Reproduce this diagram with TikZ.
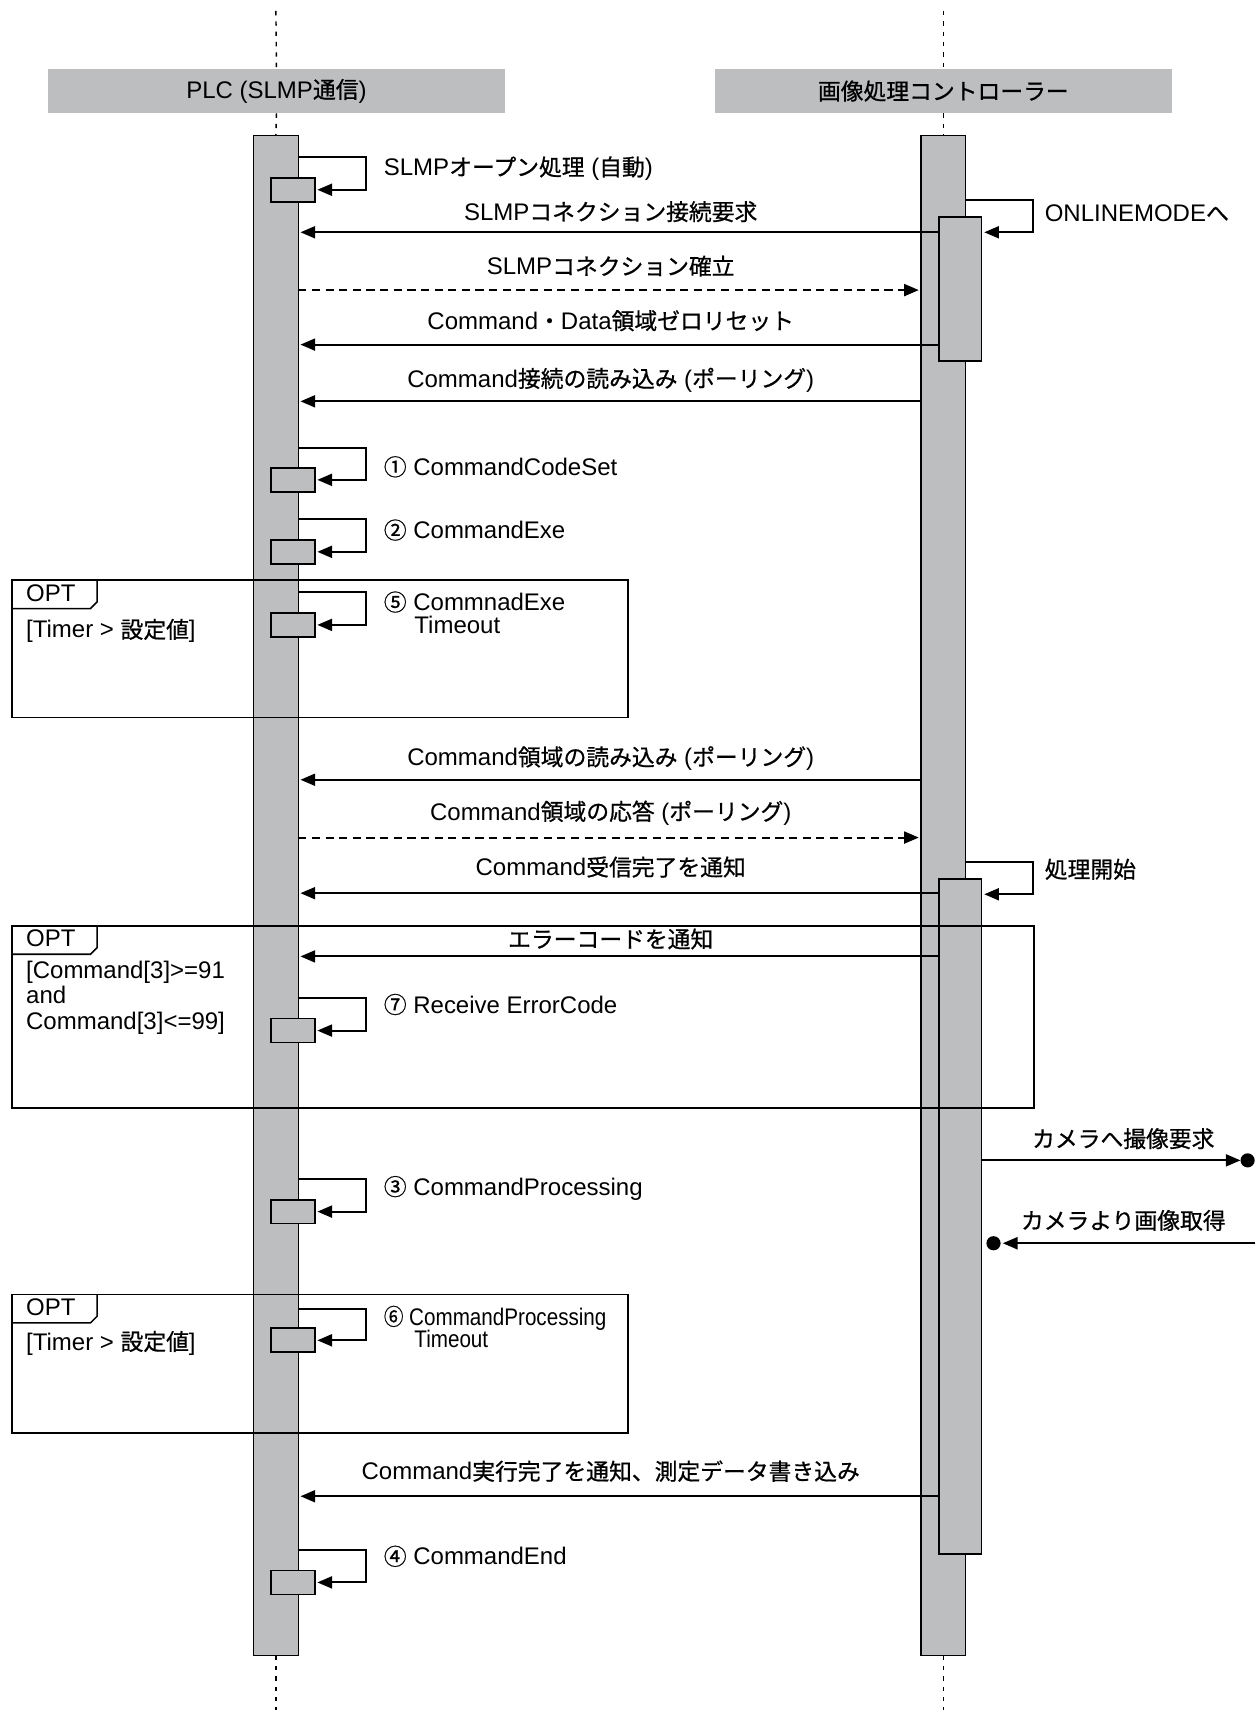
\documentclass[tikz,border=0pt]{standalone}
\usepackage{fontspec}
\usepackage{graphicx}
\setmainfont{Liberation Sans}
\newfontfamily\jpf{Noto Sans CJK JP}[Scale=0.95, FakeBold=0.7]
\newcommand\jp[1]{{\jpf #1}}
\usetikzlibrary{arrows.meta}
\definecolor{bargray}{RGB}{188,190,192}
\newcommand\plcloop[3]{%
  \node[selfbox] (#1) at (268.5,#3) {};
  \draw[msg, shorten >=2.5pt] (plcbar.east |- 0,#2) -| (336,#3) -- (#1.east);
}
\begin{document}
\begin{tikzpicture}[x=1pt,y=-1pt,
  every node/.style={font=\fontsize{22}{26}\selectfont, inner sep=0pt, outer sep=0pt},
  headbox/.style={fill=bargray, minimum width=419pt, minimum height=41pt},
  lifebar/.style={draw, fill=bargray, line width=1.3pt, minimum width=41pt, minimum height=1394pt},
  actbox/.style={draw, fill=bargray, line width=1.3pt, minimum width=39pt},
  selfbox/.style={draw, fill=bargray, line width=1.6pt, minimum width=40pt, minimum height=22pt},
  lifedash/.style={line width=1.3pt, dash pattern=on 4pt off 5.5pt},
  msg/.style={line width=1.9pt, -{Triangle[length=13.5pt,width=11pt]}, shorten >=2pt},
  reply/.style={msg, dash pattern=on 7.5pt off 5pt},
  optframe/.style={draw, line width=1.4pt, anchor=north west},
  optline/.style={line width=1.4pt},
  lbl/.style={anchor=base},
  txt/.style={anchor=base west},
  enddot/.style={circle, fill=black, minimum size=13pt}
]
\useasboundingbox (0,0) rectangle (1151,1568);

% headers
\node[headbox] (plchead) at (253.5,83.5) {PLC (SLMP\jp{通信})};
\node[headbox] (ctlhead) at (865,83.5) {\jp{画像処理コントローラー}};

% activation bars
\node[lifebar, anchor=north] (plcbar) at (253,124) {};
\node[lifebar, anchor=north] (ctlbar) at (865,124) {};
\node[actbox, minimum height=132pt, anchor=north] (act1) at (880.5,199) {};
\node[actbox, minimum height=619pt, anchor=north] (act2) at (880.5,806) {};

% lifelines
\coordinate (plctop) at (253,10);
\coordinate (plcbot) at (253,1568);
\coordinate (ctltop) at (865,10);
\coordinate (ctlbot) at (865,1568);
\draw[lifedash] (plctop) -- (plchead.north);
\draw[lifedash] (plchead.south) -- (plcbar.north);
\draw[lifedash] (plcbar.south) -- (plcbot);
\draw[lifedash] (ctltop) -- (ctlhead.north);
\draw[lifedash] (ctlhead.south) -- (ctlbar.north);
\draw[lifedash] (ctlbar.south) -- (ctlbot);

% PLC self messages
\plcloop{s0}{144}{174}
\plcloop{s1}{411}{440}
\plcloop{s2}{476}{506}
\plcloop{s5}{543}{573}
\plcloop{s7}{915}{945}
\plcloop{s3}{1081}{1111}
\plcloop{s6}{1200}{1229}
\plcloop{s4}{1421}{1451}

% controller self messages
\draw[msg, shorten >=2.5pt] (ctlbar.east |- 0,183) -| (947,213) -- (act1.east |- 0,213);
\draw[msg, shorten >=2.5pt] (ctlbar.east |- 0,790) -| (947,820) -- (act2.east |- 0,820);

% messages
\draw[msg] (act1.west |- 0,213) -- (plcbar.east |- 0,213);
\draw[reply] (plcbar.east |- 0,266) -- (ctlbar.west |- 0,266);
\draw[msg] (act1.west |- 0,316) -- (plcbar.east |- 0,316);
\draw[msg] (ctlbar.west |- 0,368) -- (plcbar.east |- 0,368);
\draw[msg] (ctlbar.west |- 0,715) -- (plcbar.east |- 0,715);
\draw[reply] (plcbar.east |- 0,768) -- (ctlbar.west |- 0,768);
\draw[msg] (act2.west |- 0,819) -- (plcbar.east |- 0,819);
\draw[msg] (act2.west |- 0,877) -- (plcbar.east |- 0,877);
\draw[msg] (act2.west |- 0,1372) -- (plcbar.east |- 0,1372);

% camera messages
\node[enddot] (dotA) at (1144,1064) {};
\draw[msg, shorten >=0pt] (act2.east |- 0,1064) -- (dotA.west);
\node[enddot] (dotB) at (911,1140) {};
\coordinate (camin) at (1151,1140);
\draw[msg] (camin) -- (dotB.east);

% OPT frames
\node[optframe, minimum width=565pt, minimum height=126pt] (opt1) at (11,532) {};
\draw[optline] (11,558) -- (83,558) -- (89,552) -- (89,532);
\node[optframe, minimum width=937pt, minimum height=167pt] (opt2) at (11,849) {};
\draw[optline] (11,875) -- (83,875) -- (89,869) -- (89,849);
\node[optframe, minimum width=565pt, minimum height=127pt] (opt3) at (11,1187) {};
\draw[optline] (11,1213) -- (83,1213) -- (89,1207) -- (89,1187);

\node[txt] (o1) at (24,552) {OPT};
\node[txt] (g1) at (24,585) {[Timer > \jp{設定値}]};
\node[txt] (o2) at (24,868) {OPT};
\node[txt] (g2a) at (24,897) {[Command[3]>=91};
\node[txt] (g2b) at (24,920) {and};
\node[txt] (g2c) at (24,944) {Command[3]<=99]};
\node[txt] (o3) at (24,1206) {OPT};
\node[txt] (g3) at (24,1238) {[Timer > \jp{設定値}]};

% message labels
\node[lbl] (l1) at (560,202) {SLMP\jp{コネクション接続要求}};
\node[lbl] (l2) at (560,252) {SLMP\jp{コネクション確立}};
\node[lbl] (l3) at (560,302) {Command\jp{・}Data\jp{領域ゼロリセット}};
\node[lbl] (l4) at (560,355) {Command\jp{接続の読み込み} (\jp{ポーリング})};
\node[lbl] (l5) at (560,702) {Command\jp{領域の読み込み} (\jp{ポーリング})};
\node[lbl] (l6) at (560,752) {Command\jp{領域の応答} (\jp{ポーリング})};
\node[lbl] (l7) at (560,803) {Command\jp{受信完了を通知}};
\node[lbl] (l8) at (560,869) {\jp{エラーコードを通知}};
\node[lbl] (l9) at (1030,1052) {\jp{カメラへ撮像要求}};
\node[lbl] (l10) at (1030,1127) {\jp{カメラより画像取得}};
\node[lbl] (l11) at (560,1357) {Command\jp{実行完了を通知、測定データ書き込み}};

% self message labels
\node[txt] (ts0) at (352,161) {SLMP\jp{オープン処理} (\jp{自動})};
\node[txt] (ts1) at (352,436) {\jp{①} CommandCodeSet};
\node[txt] (ts2) at (352,494) {\jp{②} CommandExe};
\node[txt] (ts5) at (352,560) {\jp{⑤} CommnadExe};
\node[txt] (ts5b) at (380,581) {Timeout};
\node[txt] (ts7) at (352,929) {\jp{⑦} Receive ErrorCode};
\node[txt] (ts3) at (352,1096) {\jp{③} CommandProcessing};
\node[txt] (ts6) at (352,1215) {\scalebox{0.86}[1]{\jp{⑥} CommandProcessing}};
\node[txt] (ts6b) at (380,1236) {\scalebox{0.86}[1]{Timeout}};
\node[txt] (ts4) at (352,1435) {\jp{④} CommandEnd};
\node[txt] (tc1) at (958,203) {ONLINEMODE\jp{へ}};
\node[txt] (tc2) at (958,805) {\jp{処理開始}};
\end{tikzpicture}
\end{document}
